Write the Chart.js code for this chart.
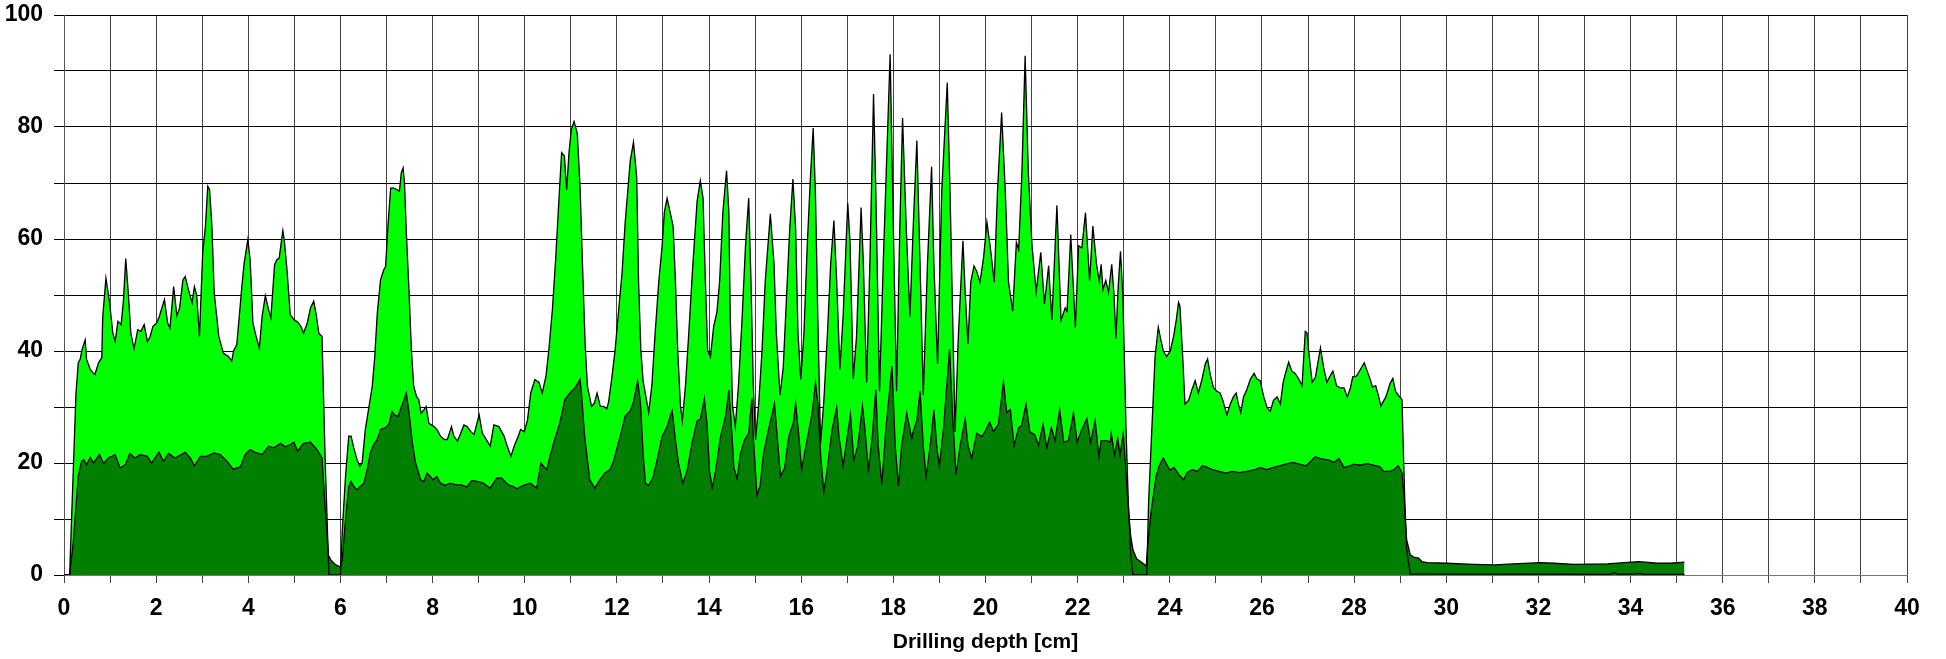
<!DOCTYPE html>
<html>
<head>
<meta charset="utf-8">
<script src="https://cdn.jsdelivr.net/npm/chart.js@4.4.1/dist/chart.umd.min.js"></script>
<style>
html,body{margin:0;padding:0;background:#fff;}
#wrap{width:1946px;height:659px;}
</style>
</head>
<body>
<div id="wrap"><canvas id="c" width="1946" height="659"></canvas></div>
<script>
// Light green series (outer envelope)
const lightDepth = [0,0.12,0.13,0.26,0.31,0.35,0.39,0.46,0.49,0.57,0.64,0.67,0.75,0.82,0.84,0.91,0.99,1.06,1.11,1.17,1.24,1.29,1.34,1.40,1.45,1.52,1.60,1.67,1.74,1.81,1.87,1.93,2.01,2.07,2.18,2.25,2.30,2.38,2.45,2.51,2.58,2.63,2.70,2.78,2.83,2.88,2.94,3.01,3.07,3.12,3.16,3.21,3.26,3.36,3.46,3.57,3.64,3.68,3.75,3.86,3.91,3.99,4.04,4.10,4.17,4.24,4.30,4.37,4.44,4.49,4.57,4.62,4.67,4.75,4.78,4.84,4.91,4.99,5.07,5.14,5.20,5.28,5.35,5.42,5.48,5.53,5.60,5.67,5.75,6.00,
6.04,6.11,6.18,6.23,6.29,6.36,6.42,6.47,6.54,6.62,6.69,6.74,6.80,6.87,6.94,6.98,7.03,7.09,7.16,7.23,7.28,7.32,7.36,7.39,7.43,7.49,7.54,7.59,7.65,7.70,7.75,7.81,7.86,7.92,8.03,8.10,8.17,8.25,8.32,8.41,8.46,8.54,8.61,8.68,8.75,8.83,8.90,9.01,9.08,9.15,9.25,9.33,9.44,9.55,9.62,9.70,9.77,9.86,9.91,9.99,10.06,10.13,10.22,10.31,10.38,10.46,10.53,10.60,10.67,10.75,10.80,10.86,10.91,10.96,11.01,11.07,11.14,11.20,11.25,11.31,11.36,11.45,11.51,11.57,11.64,11.71,11.78,11.82,11.89,11.96,
12.04,12.11,12.18,12.29,12.36,12.43,12.47,12.52,12.57,12.65,12.69,12.76,12.83,12.91,12.98,13.03,13.09,13.17,13.22,13.27,13.32,13.38,13.42,13.49,13.56,13.65,13.74,13.81,13.87,13.92,13.97,14.03,14.10,14.17,14.23,14.30,14.38,14.43,14.46,14.51,14.57,14.64,14.72,14.79,14.86,14.91,14.96,15.01,15.08,15.15,15.22,15.33,15.41,15.46,15.54,15.61,15.68,15.75,15.82,15.88,15.93,15.99,16.06,16.13,16.20,16.26,16.31,16.36,16.42,16.49,16.57,16.64,16.71,16.77,16.84,16.91,17.01,17.06,
17.13,17.20,17.30,17.35,17.42,17.49,17.57,17.62,17.70,17.78,17.93,18.00,18.07,18.14,18.20,18.28,18.36,18.43,18.51,18.58,18.65,18.74,18.83,18.88,18.96,19.05,19.17,19.23,19.34,19.41,19.51,19.56,19.62,19.68,19.75,19.81,19.88,19.96,20.03,20.10,20.19,20.26,20.35,20.43,20.50,20.59,20.67,20.72,20.79,20.86,20.93,21.01,21.10,21.20,21.28,21.37,21.44,21.55,21.64,21.73,21.77,21.85,21.95,22.02,22.09,22.17,22.26,22.33,22.41,22.47,22.51,22.55,22.61,22.67,22.74,22.79,22.83,22.88,22.93,22.98,23.01,23.05,23.10,23.15,23.20,23.50,
23.54,23.61,23.68,23.75,23.80,23.86,23.93,24.01,24.08,24.14,24.19,24.22,24.28,24.33,24.41,24.48,24.55,24.62,24.70,24.77,24.82,24.88,24.95,25.02,25.09,25.15,25.24,25.31,25.38,25.44,25.49,25.54,25.60,25.67,25.75,25.83,25.89,25.96,26.04,26.11,26.18,26.25,26.33,26.40,26.46,26.51,26.58,26.65,26.72,26.80,26.87,26.94,26.98,27.01,27.09,27.16,27.27,27.34,27.41,27.49,27.54,27.62,27.70,27.78,27.85,27.92,27.97,28.05,28.13,28.22,28.28,28.33,28.40,28.47,28.53,28.58,28.69,28.78,28.84,28.90,28.96,29.04,29.07,29.11,29.14,29.22,33.55,33.64,33.72,34.10,34.18,34.30,35.17];
const lightValue = [0,0,2,32.5,37.9,38.5,40.2,42,38.5,36.7,36,35.8,37.9,38.8,46,53,48.6,43.2,41.7,45.3,44.7,49,56.5,49.8,43.2,40.4,43.8,43.5,44.7,41.7,42.6,44.4,45,46.2,49.2,45,44.1,51.5,46.3,47.7,52.7,53.3,51,48.6,51.5,50,42.6,57.5,62.3,69.4,68.8,62.3,50.4,42.6,39.6,39,38.2,40,41.1,51.5,55.7,59.9,56.3,45,42.6,40.5,46.2,49.9,47.4,45.9,55.4,56.3,56.6,61.5,59.9,54.5,46.5,45.6,45.2,44.4,43.2,45,47.7,48.9,46.2,43.2,42.6,20,0,0,
8,17.6,24.8,24.8,22.7,20.6,19.4,20,26,30.1,33.7,38.5,46.8,52.7,54.5,55.1,62.3,69.1,69.1,68.8,68.5,71.8,72.7,70,61.1,50.4,40.2,33.7,31.9,31.3,28.9,29.5,30.1,27.1,26.5,25.9,24.8,24.2,24.2,26.5,24.8,23.9,25.3,26.8,26.5,25.6,25.1,28.6,25.3,24.4,23,26.8,26.5,24.8,23,21.2,23,24.8,26,25.6,27.7,32.5,34.9,34.4,32.5,35.5,40.8,47.4,56.3,68.2,75.4,74.8,68.8,75.4,79.5,81,78.9,69.4,56.3,41.4,33.7,30.1,30.7,32.5,30.1,30.1,29.7,30.9,35.2,40.1,
47.5,53.7,63,74,77.3,71,52.5,40.1,34.6,30.9,29,34,43.2,52.5,58.6,64.8,67.3,64.2,62.3,52.5,40.1,30.2,27.5,34,43.2,55.6,66.7,70.4,67.3,52.5,40.1,38.9,44.4,46.9,52.5,64.8,72.2,64.8,46.3,30.2,26.5,34,46.3,58.6,67.3,52.5,34,24.1,30.9,40.1,52.5,64.5,55.6,43.2,32.1,37,49.4,61.7,70.7,61.7,43.2,34.9,43.2,58.6,71,79.8,67.9,46.3,23.5,30.9,43.2,55.6,63.3,52.5,36.7,46.3,66.4,59.4,
35,42.5,65.6,55.5,34.4,55.5,85.9,68.5,32.8,55.5,93,62,32.8,62,81.6,62,46.1,62,77.6,55.5,32.1,55.5,72.9,55.5,37.7,68.5,87.9,68.5,25.6,42.5,59.7,50.3,41.2,52.3,55.2,54.2,52.3,56.8,63,58.8,52.3,68.5,82.6,68.5,52.3,47.1,59.4,58.1,71.8,92.7,71.8,58.8,50.6,57.6,48.4,55.2,45.5,66,45.5,47.7,47.1,60.8,44.2,58.8,58.4,64.7,52.6,62.3,55.5,52.4,55.5,51,52.6,50.5,55.5,50,42.2,51.5,57.8,50,40.3,26,13,3.9,0,0,
13,26,39,44.2,42.2,40,39,40,42.5,45.5,48.7,48,39,30.5,31.2,33.1,34.7,32.5,35,37.7,38.6,35.7,33.4,32.8,32.5,31.2,28.6,30.5,31.8,32.5,30.5,29,31.8,33.1,35,36,35,34.7,31.8,29.9,29.2,31.2,31.8,30.5,34.4,36,38,36.4,36,35,33.8,43.5,43.2,40.3,34.4,35.3,40.6,37,34.4,35.7,36.4,33.8,33.4,33.4,31.8,33.4,35.4,35.5,36.6,37.9,36.5,35.4,33.6,33.8,32,30.2,31.8,34.2,35.1,32.8,32.1,31.3,22,10.4,4.5,0.2,0.1,0.4,0.1,0.2,0.3,0.1,0.1];

// Dark green series (inner)
const darkDepth = [0,0.12,0.2,0.31,0.38,0.43,0.49,0.57,0.64,0.77,0.86,0.96,1.11,1.22,1.33,1.43,1.54,1.65,1.81,1.9,2.06,2.16,2.27,2.41,2.63,2.74,2.83,2.96,3.1,3.25,3.39,3.54,3.67,3.83,3.93,4.04,4.15,4.3,4.44,4.55,4.7,4.8,4.91,4.99,5.07,5.2,5.35,5.49,5.6,5.67,5.74,5.8,5.9,6.0,
6.04,6.11,6.18,6.23,6.29,6.36,6.43,6.51,6.58,6.65,6.72,6.80,6.87,6.98,7.05,7.12,7.17,7.25,7.30,7.38,7.43,7.49,7.56,7.63,7.74,7.81,7.88,7.95,8.01,8.09,8.17,8.27,8.38,8.52,8.63,8.74,8.85,8.96,9.1,9.25,9.39,9.5,9.64,9.75,9.83,9.97,10.12,10.26,10.35,10.41,10.48,10.55,10.65,10.76,10.87,10.98,11.09,11.2,11.23,11.3,11.41,11.52,11.63,11.74,11.85,
11.93,12.07,12.18,12.29,12.36,12.45,12.51,12.57,12.62,12.69,12.78,12.87,12.98,13.09,13.16,13.2,13.27,13.34,13.43,13.52,13.63,13.74,13.81,13.9,13.96,14.01,14.07,14.14,14.25,14.36,14.43,14.5,14.54,14.61,14.68,14.77,14.86,14.93,14.96,15.04,15.11,15.18,15.29,15.36,15.42,15.48,15.55,15.64,15.73,15.83,15.88,15.95,16.01,16.07,16.17,16.24,16.31,16.36,16.42,16.49,16.56,16.67,16.77,16.82,16.91,17.0,17.07,
17.14,17.23,17.33,17.38,17.46,17.54,17.62,17.67,17.75,17.84,17.97,18.04,18.11,18.18,18.29,18.4,18.43,18.51,18.58,18.65,18.71,18.8,18.88,18.94,19.0,19.09,19.22,19.28,19.36,19.45,19.56,19.62,19.7,19.81,19.92,19.99,20.09,20.17,20.28,20.39,20.46,20.54,20.62,20.72,20.78,20.88,20.96,21.07,21.15,21.25,21.33,21.43,21.51,21.61,21.7,21.8,21.91,21.99,22.07,22.2,22.28,22.38,22.46,22.51,22.64,22.71,
22.73,22.8,22.87,22.92,22.99,23.04,23.09,23.15,23.2,23.28,23.38,23.49,23.52,23.59,23.7,23.77,23.86,23.91,24.0,24.09,24.2,24.3,24.38,24.49,24.6,24.71,24.82,24.93,25.07,25.22,25.36,25.51,25.67,25.85,25.96,26.1,26.25,26.38,26.52,26.67,26.81,26.96,27.16,27.27,27.45,27.56,27.67,27.78,27.92,
27.99,28.13,28.28,28.42,28.56,28.64,28.78,28.86,28.96,29.04,29.09,29.14,29.22,29.29,29.4,29.47,29.58,30.01,30.59,31.04,31.47,32.04,32.33,32.77,33.5,33.86,34.18,34.58,34.87,35.17];
const darkValue = [0,0,5.7,17.6,20.3,20.6,19.7,21,20,21.5,19.9,20.9,21.5,19.1,19.7,21.7,20.9,21.5,21.2,20,21.9,20.3,21.7,20.9,21.9,20.9,19.5,21.2,21.2,21.8,21.5,20.3,18.9,19.3,21.5,22.4,21.9,21.5,23,22.7,23.5,22.9,23.3,23.7,22.1,23.5,23.7,22.4,20.9,11.7,3.5,2.6,1.8,1.4,
2.7,9.9,15.8,16.7,15.8,15.2,15.8,16.4,18.8,21.8,23.3,24.2,26,26.3,26.9,29.2,28.6,28.3,29.5,31.3,32.5,28.9,23.6,20,17,16.7,18.2,17.6,17,17.6,16.4,16,16.4,16.1,16.1,15.7,16.9,16.7,16.4,15.5,17.3,17.3,16.1,15.8,15.4,16,16.4,15.5,20,19.4,18.8,21.2,24.2,27.1,31.3,32.5,33.4,34.9,32.5,24.8,17,15.5,17,18.2,18.8,
20.4,24.7,28.4,29.3,30.9,34.6,30.9,21.6,16.4,16,17.3,20.4,24.7,26.5,28.4,29.3,24.1,19.8,16.4,18.5,23.5,27.5,27.8,31.5,26.5,18.5,15.6,18.5,24.7,28.4,33,24.7,19.1,17.2,21.6,24.1,25.3,31.5,24.7,14.2,16,21.6,25.9,28.4,30.6,24.7,17.6,19.1,24.7,27.2,30.6,24.7,18.8,21.6,25.9,29,34.3,30.9,21.6,14.8,18.5,25.9,29.9,24.7,19.4,24.7,28.7,
20.5,23.1,30.2,26.3,18.8,24.4,33.1,23.1,16.2,26.3,37.3,23.1,15.9,23.1,28.9,24.4,25.6,27.6,32.8,23.1,17.5,23.1,29.5,23.1,19.5,26.3,40.3,29.5,17.9,23.1,27.9,23.1,20.8,25.3,24.7,25.6,27.3,25.6,26.9,34.4,29,29.5,23.1,26.3,26.6,30.5,25.6,25,23.1,26.9,22.7,26.3,24,29.5,23.7,24,28.9,23.7,25.6,27.9,23.7,27.6,21.1,24,24,23.7,
25.3,21.4,24.4,21.4,25.3,19.5,13,7.1,4.5,2.9,2.3,1.6,5.2,11,17.5,19.5,20.9,20.1,18.7,19.2,17.9,17,18.3,18.8,18.5,19.5,19.2,18.8,18.5,18.2,18.5,18.3,18.5,18.8,19.2,18.8,19.2,19.5,19.8,20.1,19.8,19.5,21.1,20.8,20.5,20.1,20.8,19.2,19.5,
19.8,19.6,19.9,19.6,19.3,18.5,18.5,18.8,19.5,18.2,13.4,6.3,3.6,3.2,3.0,2.4,2.2,2.1,1.9,1.8,2.0,2.2,2.1,1.9,2.0,2.2,2.4,2.1,2.1,2.3];

const xTickLabels = [0,2,4,6,8,10,12,14,16,18,20,22,24,26,28,30,32,34,36,38,40];
const yTickLabels = [0,20,40,60,80,100];
const xTitle = 'Drilling depth [cm]';

const toPts = (xs, ys) => xs.map((x, i) => ({x: x, y: ys[i]}));

const tickFont = {family: '"Liberation Sans", Arial, sans-serif', size: 23, weight: 'bold'};

new Chart(document.getElementById('c'), {
  type: 'line',
  data: {
    datasets: [
      {
        label: 'dark',
        data: toPts(darkDepth, darkValue),
        backgroundColor: '#007F00',
        borderColor: '#000000',
        borderWidth: 1.3,
        fill: 'origin',
        pointRadius: 0,
        tension: 0
      },
      {
        label: 'light',
        data: toPts(lightDepth, lightValue),
        backgroundColor: '#00FF00',
        borderColor: '#000000',
        borderWidth: 1.3,
        fill: 'origin',
        pointRadius: 0,
        tension: 0
      }
    ]
  },
  options: {
    responsive: false,
    animation: false,
    devicePixelRatio: 1,
    layout: {padding: {left: 0, right: 39, top: 15, bottom: 0}},
    plugins: {
      legend: {display: false},
      tooltip: {enabled: false},
      filler: {drawTime: 'beforeDatasetsDraw'}
    },
    scales: {
      x: {
        type: 'linear',
        min: 0, max: 40,
        afterFit: s => { s.height = 84; s.paddingLeft = 0; s.paddingRight = 0; },
        afterBuildTicks: s => { s.ticks = Array.from({length: 41}, (_, i) => ({value: i})); },
        ticks: {
          autoSkip: false,
          maxRotation: 0,
          color: '#000',
          font: tickFont,
          padding: 12,
          callback: v => xTickLabels.includes(v) ? String(v) : ''
        },
        grid: {color: '#444', lineWidth: 1, tickLength: 8, tickColor: '#444'},
        border: {color: '#777'},
        title: {display: true, text: xTitle, color: '#000', font: {family: '"Liberation Sans", Arial, sans-serif', size: 21, weight: 'bold'}, padding: {top: 0, bottom: 4}}
      },
      y: {
        min: 0, max: 100,
        afterFit: s => { s.width = 64; s.paddingTop = 0; s.paddingBottom = 0; },
        afterBuildTicks: s => { s.ticks = Array.from({length: 11}, (_, i) => ({value: i * 10})); },
        ticks: {
          color: '#000',
          font: tickFont,
          padding: 11,
          callback: v => yTickLabels.includes(v) ? String(v) : ''
        },
        grid: {color: '#000', lineWidth: 1, tickLength: 10, tickColor: '#000'},
        border: {color: '#555'}
      }
    }
  }
});
</script>
</body>
</html>
